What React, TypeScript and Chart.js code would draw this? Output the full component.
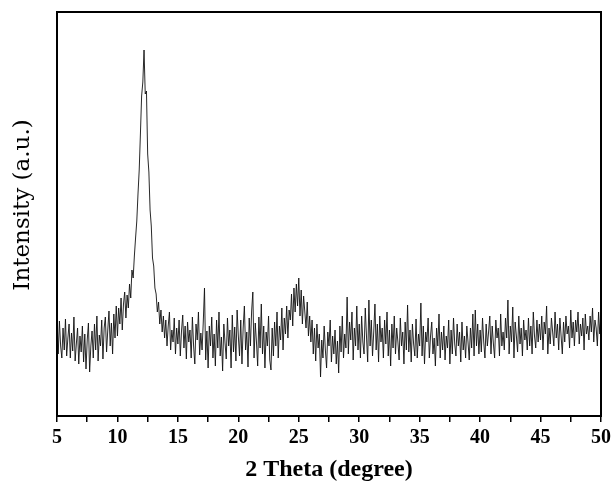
import React, { useEffect, useRef } from "react";
import { Chart, registerables } from "chart.js";

Chart.register(...registerables);

// XRD scan: 2θ from 5° to 50°, step 0.1°
const startAngle = 5;
const stepAngle = 0.1;

// Intensity (a.u.), one row per degree (x.0 ... x.9), last value at 50.0
const intensity: number[] = [
  100, 62, 95, 70, 58, 88, 66, 97, 60, 78, // 5
  92, 58, 83, 65, 99, 55, 72, 88, 52, 80, // 6
  64, 90, 54, 82, 47, 76, 93, 44, 70, 85, // 7
  58, 92, 66, 100, 55, 81, 70, 96, 57, 88, // 8
  99, 64, 86, 105, 70, 93, 62, 102, 78, 110, // 9
  80, 108, 92, 118, 86, 112, 124, 98, 121, 108, // 10
  132, 118, 146, 138, 160, 178, 195, 222, 246, 282, // 11
  320, 334, 366, 322, 325, 262, 244, 206, 190, 158, // 12
  150, 128, 122, 104, 114, 92, 106, 84, 100, 78, // 13
  96, 70, 90, 104, 66, 86, 74, 98, 62, 88, // 14
  72, 96, 60, 85, 101, 68, 90, 57, 94, 74, // 15
  86, 58, 99, 70, 52, 92, 76, 104, 61, 83, // 16
  66, 94, 128, 56, 85, 48, 90, 70, 99, 58, // 17
  82, 50, 96, 68, 104, 60, 79, 45, 92, 73, // 18
  57, 98, 70, 86, 48, 101, 64, 89, 55, 106, // 19
  80, 60, 96, 52, 88, 110, 66, 84, 49, 98, // 20
  70, 105, 124, 58, 93, 74, 50, 99, 68, 112, // 21
  62, 90, 48, 84, 70, 100, 56, 46, 88, 60, // 22
  94, 70, 104, 58, 90, 76, 108, 66, 98, 82, // 23
  110, 78, 106, 96, 122, 90, 128, 104, 132, 110, // 24
  138, 100, 126, 92, 120, 104, 88, 114, 80, 100, // 25
  74, 96, 62, 88, 55, 92, 68, 82, 39, 76, // 26
  58, 90, 66, 48, 84, 70, 96, 54, 80, 62, // 27
  86, 52, 75, 43, 90, 64, 100, 58, 82, 68, // 28
  119, 62, 94, 76, 104, 56, 88, 70, 110, 66, // 29
  92, 58, 100, 74, 62, 108, 80, 54, 116, 70, // 30
  96, 60, 84, 112, 66, 92, 54, 100, 74, 88, // 31
  58, 96, 72, 104, 60, 86, 50, 92, 68, 100, // 32
  62, 88, 74, 56, 98, 70, 84, 52, 94, 66, // 33
  111, 64, 86, 54, 92, 72, 60, 97, 58, 82, // 34
  70, 113, 60, 90, 52, 84, 74, 98, 58, 80, // 35
  94, 62, 78, 50, 88, 70, 102, 58, 84, 66, // 36
  90, 56, 80, 68, 96, 52, 86, 62, 98, 72, // 37
  60, 92, 70, 84, 54, 94, 66, 80, 58, 90, // 38
  74, 56, 88, 68, 102, 60, 106, 70, 92, 62, // 39
  86, 64, 98, 74, 58, 92, 70, 84, 100, 62, // 40
  90, 72, 58, 96, 78, 88, 60, 102, 70, 84, // 41
  66, 98, 78, 116, 62, 90, 74, 109, 58, 94, // 42
  80, 64, 100, 72, 88, 60, 96, 76, 86, 66, // 43
  98, 70, 90, 62, 104, 80, 68, 96, 74, 92, // 44
  76, 100, 66, 94, 82, 110, 62, 88, 72, 98, // 45
  84, 70, 104, 78, 92, 66, 98, 80, 62, 94, // 46
  74, 100, 82, 90, 68, 106, 78, 94, 70, 96, // 47
  84, 104, 72, 92, 80, 98, 66, 102, 82, 90, // 48
  76, 100, 84, 108, 74, 96, 88, 70, 104, 82, // 49
  100, // 50
];

const xMin = 5;
const xMax = 50;
const xTickStep = 2.5;
const xLabelStep = 5;
const yMin = 0;
const yMax = 404;

const xTitle = "2 Theta (degree)";
const yTitle = "Intensity (a.u.)";

const serif = "'Liberation Serif', 'Times New Roman', serif";

const framePlugin = {
  id: "frameAndYTitle",
  afterDraw(chart: any) {
    const { ctx, chartArea } = chart;
    ctx.save();
    ctx.strokeStyle = "#000";
    ctx.lineWidth = 2;
    ctx.strokeRect(
      chartArea.left,
      chartArea.top,
      chartArea.right - chartArea.left,
      chartArea.bottom - chartArea.top
    );
    ctx.translate(23, 205);
    ctx.rotate(-Math.PI / 2);
    ctx.font = "23px 'DejaVu Serif', serif";
    ctx.fillStyle = "#000";
    ctx.textAlign = "center";
    ctx.textBaseline = "middle";
    ctx.fillText(yTitle, 0, 0);
    ctx.restore();
  },
};

export default function App() {
  const canvasRef = useRef<HTMLCanvasElement | null>(null);

  useEffect(() => {
    const canvas = canvasRef.current;
    if (!canvas) return;
    const points = intensity.map((v, i) => ({
      x: +(startAngle + i * stepAngle).toFixed(2),
      y: v,
    }));
    const chart = new Chart(canvas, {
      type: "line",
      data: {
        datasets: [
          {
            data: points,
            borderColor: "#111",
            borderWidth: 0.9,
            pointRadius: 0,
            tension: 0,
            fill: false,
          },
        ],
      },
      options: {
        animation: false,
        responsive: false,
        parsing: false,
        normalized: true,
        layout: { padding: { top: 12, right: 13, left: 57, bottom: 0 } },
        plugins: {
          legend: { display: false },
          tooltip: { enabled: false },
        },
        scales: {
          x: {
            type: "linear",
            min: xMin,
            max: xMax,
            afterFit(scale: any) {
              scale.height = 68;
            },
            border: { display: false },
            grid: {
              display: true,
              drawOnChartArea: false,
              drawTicks: true,
              tickLength: 6,
              color: "#000",
              lineWidth: 1.5,
            },
            ticks: {
              stepSize: xTickStep,
              autoSkip: false,
              maxRotation: 0,
              padding: 4,
              color: "#000",
              font: { family: serif, size: 20, weight: "bold" },
              callback: (v: any) => (Number(v) % xLabelStep === 0 ? String(v) : ""),
            },
            title: {
              display: true,
              text: xTitle,
              color: "#000",
              font: { family: serif, size: 24, weight: "bold" },
              padding: { top: 0, bottom: 0 },
            },
          },
          y: {
            display: false,
            min: yMin,
            max: yMax,
          },
        },
      },
      plugins: [framePlugin],
    });
    return () => chart.destroy();
  }, []);

  return (
    <div style={{ position: "absolute", left: 0, top: 0, width: 615, height: 484, background: "#fff" }}>
      <canvas ref={canvasRef} width={615} height={484} />
    </div>
  );
}
